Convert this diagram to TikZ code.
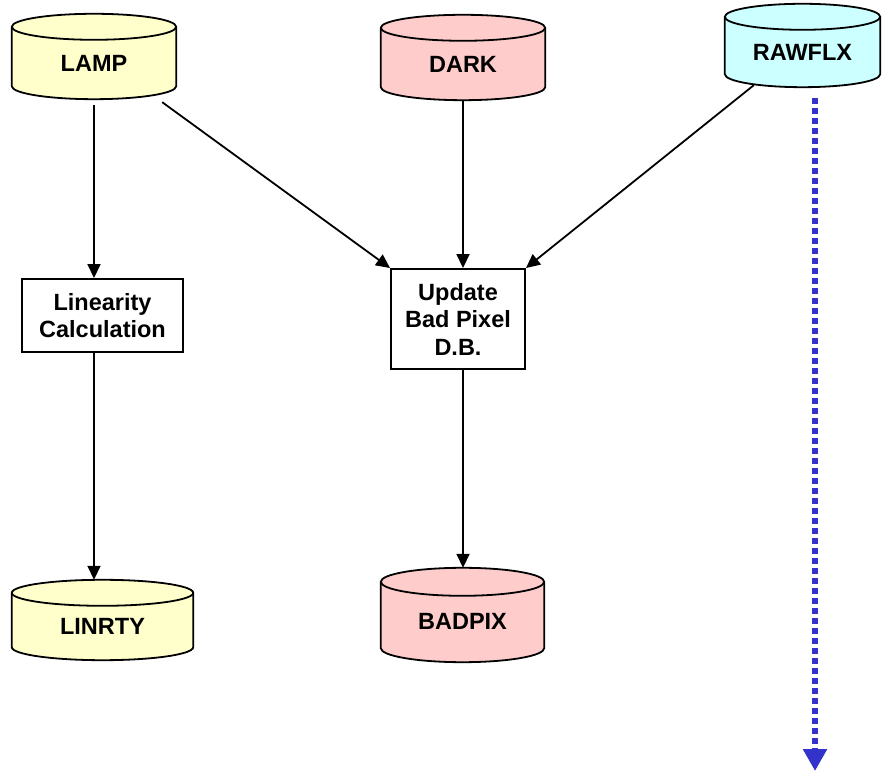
\documentclass[tikz,border=0pt]{standalone}
\usepackage{fontspec}
\setmainfont{Liberation Sans}
\usetikzlibrary{arrows.meta,calc,backgrounds}

\definecolor{lampyel}{RGB}{255,255,204}
\definecolor{darkpink}{RGB}{255,204,204}
\definecolor{flxcyan}{RGB}{204,255,255}
\definecolor{flowblue}{RGB}{51,51,204}

\begin{document}
\begin{tikzpicture}[x=1pt,y=1pt,
  every node/.style={font=\fontsize{23.5}{27.5}\selectfont\bfseries},
  dbase/.style={minimum width=#1, inner sep=0pt, text height=30pt, text depth=0pt},
  stepbox/.style={draw, line width=1.9pt, fill=white, align=center, inner sep=0pt},
  flow/.style={line width=1.8pt, -{Triangle[width=13pt,length=14pt]}},
  dotflow/.style={flowblue, line width=6pt, dash pattern=on 6pt off 4pt,
                  -{Triangle[width=23pt,length=22pt]}}]
\useasboundingbox (0,0) rectangle (882,773);

% data stores (outlines drawn on the background layer below)
\node[dbase=164pt, minimum height=85pt] (lamp)   at (94,716.5)  {LAMP};
\node[dbase=164pt, minimum height=85pt] (dark)   at (463,715.5) {DARK};
\node[dbase=155pt, minimum height=83pt] (rawflx) at (802.5,727.5) {RAWFLX};
\node[dbase=181pt, minimum height=80pt] (linrty) at (102.5,153) {LINRTY};
\node[dbase=163pt, minimum height=94pt] (badpix) at (462.5,158) {BADPIX};

% processing steps
\node[stepbox, minimum width=161pt, minimum height=73pt] (lin) at (102.5,457.5)
  {Linearity\\Calculation};
\node[stepbox, minimum width=134pt, minimum height=100pt] (upd) at (458,454)
  {Update\\Bad Pixel\\D.B.};

% cylinder outlines
\begin{scope}[on background layer]
\foreach \nm/\c/\r in {lamp/lampyel/13pt, dark/darkpink/13pt, rawflx/flxcyan/13pt,
                       linrty/lampyel/13pt, badpix/darkpink/14pt} {
  \draw[line width=1.8pt, fill=\c]
    let \p1=(\nm.north west), \p2=(\nm.south east), \n1={(\x2-\x1)/2} in
    (\x1,\y1-\r) -- (\x1,\y2+\r)
      arc[start angle=180, end angle=360, x radius=\n1, y radius=\r]
      -- (\x2,\y1-\r)
      arc[start angle=0, end angle=180, x radius=\n1, y radius=\r] -- cycle;
  \draw[line width=1.8pt]
    let \p1=(\nm.north west), \p2=(\nm.south east), \n1={(\x2-\x1)/2} in
    (\x1,\y1-\r) arc[start angle=180, end angle=360, x radius=\n1, y radius=\r];
}
\end{scope}

% connectors
\draw[flow, shorten <=6pt] (lamp.south) -- (lamp.south |- lin.north);
\draw[flow] (lamp.south |- lin.south) -- (lamp.south |- linrty.north);
\draw[flow] ($(lamp.south east)+(-14,-3)$) -- (upd.north west);
\draw[flow] (dark.south) -- (dark.south |- upd.north);
\draw[flow] ($(rawflx.south west)+(29,2)$) -- (upd.north east);
\draw[flow] (dark.south |- upd.south) -- (dark.south |- badpix.north);

\coordinate (flxout) at (815,675);
\coordinate (flxend) at (815,2);
\draw[dotflow] (flxout) -- (flxend);
\end{tikzpicture}
\end{document}
